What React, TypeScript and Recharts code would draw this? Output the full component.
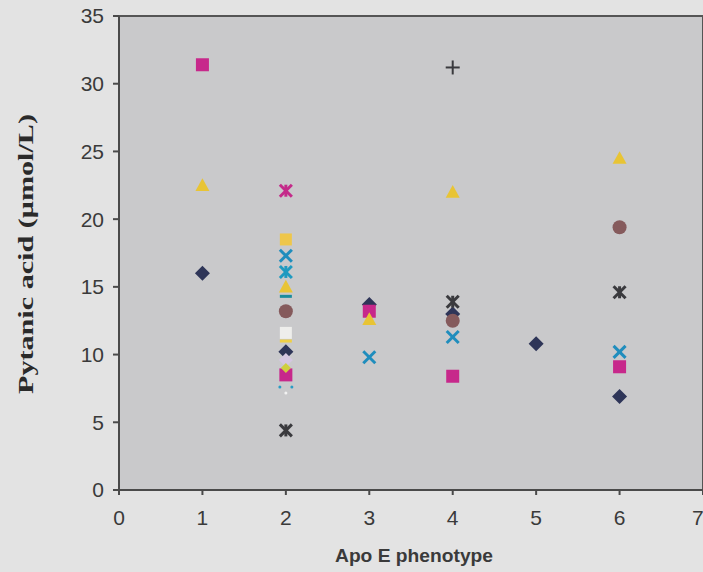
import { ScatterChart, Scatter, XAxis, YAxis, ReferenceArea } from 'recharts';

// Apo E phenotype groups (x) and pytanic acid values (y), one pair of arrays per marker series
const xTicks = [0, 1, 2, 3, 4, 5, 6, 7];
const yTicks = [0, 5, 10, 15, 20, 25, 30, 35];

const diamondX = [1, 2, 3, 4, 5, 6];
const diamondY = [16.0, 10.2, 13.7, 13.0, 10.8, 6.9];

const squareX = [1, 2, 3, 4, 6];
const squareY = [31.4, 8.5, 13.2, 8.4, 9.1];

const triangleX = [1, 2, 3, 4, 6];
const triangleY = [22.5, 15.0, 12.6, 22.0, 24.5];

const crossX = [2, 3, 4, 6];
const crossY = [17.3, 9.8, 11.3, 10.2];

const pinkStarX = [2];
const pinkStarY = [22.1];

const darkStarX = [2, 4, 6];
const darkStarY = [4.4, 13.9, 14.6];

const circleX = [2, 4, 6];
const circleY = [13.2, 12.5, 19.4];

const plusX = [4];
const plusY = [31.2];

const cyanStarX = [2];
const cyanStarY = [16.1];

const yellowSquareX = [2];
const yellowSquareY = [18.5];

const tealDashX = [2];
const tealDashY = [14.3];

const paleSquareX = [2];
const paleSquareY = [11.6];

const yellowDashX = [2];
const yellowDashY = [11.0];

const lavenderX = [2];
const lavenderY = [9.6];

const limeDiamondX = [2];
const limeDiamondY = [9.0];

const dotsX = [2];
const dotsY = [7.6];

const zip = (xs: number[], ys: number[]) => xs.map((x, i) => ({ x, y: ys[i] }));

type Kind = 'diamond' | 'square' | 'triangle' | 'cross' | 'star' | 'circle' | 'plus' | 'dash' | 'dots';

const series: { name: string; kind: Kind; color: string; size: number; data: { x: number; y: number }[] }[] = [
  { name: 'diamond', kind: 'diamond', color: '#2e3558', size: 7.5, data: zip(diamondX, diamondY) },
  { name: 'circle', kind: 'circle', color: '#855a5c', size: 7, data: zip(circleX, circleY) },
  { name: 'lavender', kind: 'diamond', color: '#d4c6e2', size: 7, data: zip(lavenderX, lavenderY) },
  { name: 'square', kind: 'square', color: '#c7288b', size: 6.5, data: zip(squareX, squareY) },
  { name: 'limeDiamond', kind: 'diamond', color: '#cfcf3e', size: 5, data: zip(limeDiamondX, limeDiamondY) },
  { name: 'triangle', kind: 'triangle', color: '#e8c435', size: 7, data: zip(triangleX, triangleY) },
  { name: 'cross', kind: 'cross', color: '#1f8dbd', size: 6, data: zip(crossX, crossY) },
  { name: 'pinkStar', kind: 'star', color: '#c42a8a', size: 6, data: zip(pinkStarX, pinkStarY) },
  { name: 'darkStar', kind: 'star', color: '#3a3a3e', size: 6, data: zip(darkStarX, darkStarY) },
  { name: 'plus', kind: 'plus', color: '#3a3a3e', size: 7, data: zip(plusX, plusY) },
  { name: 'cyanStar', kind: 'star', color: '#1f9ac0', size: 6, data: zip(cyanStarX, cyanStarY) },
  { name: 'yellowSquare', kind: 'square', color: '#eec64a', size: 6, data: zip(yellowSquareX, yellowSquareY) },
  { name: 'tealDash', kind: 'dash', color: '#1a8c9c', size: 6, data: zip(tealDashX, tealDashY) },
  { name: 'paleSquare', kind: 'square', color: '#eeeeec', size: 6, data: zip(paleSquareX, paleSquareY) },
  { name: 'yellowDash', kind: 'dash', color: '#efd046', size: 6, data: zip(yellowDashX, yellowDashY) },
  { name: 'dots', kind: 'dots', color: '#2a9cc4', size: 6, data: zip(dotsX, dotsY) },
];

function marker(kind: Kind, color: string, s: number) {
  return (props: any) => {
    const { cx, cy } = props;
    if (cx == null || cy == null) return <g />;
    switch (kind) {
      case 'diamond':
        return <polygon points={`${cx},${cy - s} ${cx + s},${cy} ${cx},${cy + s} ${cx - s},${cy}`} fill={color} />;
      case 'square':
        return <rect x={cx - s} y={cy - s} width={s * 2} height={s * 2} fill={color} />;
      case 'triangle':
        return <polygon points={`${cx},${cy - s} ${cx + s},${cy + s * 0.8} ${cx - s},${cy + s * 0.8}`} fill={color} />;
      case 'circle':
        return <circle cx={cx} cy={cy} r={s} fill={color} />;
      case 'cross':
        return (
          <g stroke={color} strokeWidth={3}>
            <line x1={cx - s} y1={cy - s} x2={cx + s} y2={cy + s} />
            <line x1={cx - s} y1={cy + s} x2={cx + s} y2={cy - s} />
          </g>
        );
      case 'star':
        return (
          <g stroke={color} strokeWidth={3}>
            <line x1={cx - s} y1={cy - s} x2={cx + s} y2={cy + s} />
            <line x1={cx - s} y1={cy + s} x2={cx + s} y2={cy - s} />
            <line x1={cx} y1={cy - s} x2={cx} y2={cy + s} />
          </g>
        );
      case 'plus':
        return (
          <g stroke={color} strokeWidth={2}>
            <line x1={cx - s} y1={cy} x2={cx + s} y2={cy} />
            <line x1={cx} y1={cy - s} x2={cx} y2={cy + s} />
          </g>
        );
      case 'dash':
        return <rect x={cx - s} y={cy - 1.5} width={s * 2} height={3} fill={color} />;
      case 'dots':
        return (
          <g fill={color}>
            <circle cx={cx - s} cy={cy} r={1.5} />
            <circle cx={cx + s} cy={cy} r={1.5} />
            <circle cx={cx} cy={cy + s} r={1.5} fill="#f2f2f2" />
          </g>
        );
    }
    return <g />;
  };
}

const tickStyle = { fontSize: 21, fill: '#3a3a3a', fontFamily: "'Liberation Sans', Arial, sans-serif" };

function YTitle() {
  return (
    <text
      x={25}
      y={254}
      transform="rotate(-90 25 254)"
      textAnchor="middle"
      dominantBaseline="central"
      fontFamily="'Liberation Serif', 'Times New Roman', serif"
      fontWeight="bold"
      fontSize={22}
      fill="#2a2a2a"
      textLength={280}
      lengthAdjust="spacingAndGlyphs"
    >
      Pytanic acid (μmol/L)
    </text>
  );
}

function XTitle() {
  return (
    <text
      x={414}
      y={556}
      textAnchor="middle"
      dominantBaseline="central"
      fontFamily="'Liberation Sans', Arial, sans-serif"
      fontWeight="bold"
      fontSize={18}
      fill="#3a3a3a"
      textLength={158}
      lengthAdjust="spacingAndGlyphs"
    >
      Apo E phenotype
    </text>
  );
}

export default function App() {
  return (
    <div style={{ position: 'absolute', top: 0, left: 0, width: 703, height: 572, background: '#e3e3e3' }}>
      <ScatterChart width={703} height={572} margin={{ top: 16, right: 0, bottom: 0, left: 0 }}>
        <XAxis
          type="number"
          dataKey="x"
          domain={[0, 7]}
          ticks={xTicks}
          allowDecimals={false}
          height={82}
          tick={tickStyle}
          tickSize={5}
          tickMargin={15}
          stroke="#4a4a4a"
          strokeWidth={2}
          label={<XTitle />}
        />
        <YAxis
          type="number"
          dataKey="y"
          domain={[0, 35]}
          ticks={yTicks}
          width={119}
          tick={tickStyle}
          tickSize={6}
          tickMargin={9}
          stroke="#4a4a4a"
          strokeWidth={2}
          label={<YTitle />}
        />
        <ReferenceArea x1={0} x2={7} y1={0} y2={35} fill="#c9c9cb" fillOpacity={1} stroke="#555" strokeWidth={2} />
        {series.map((s) => (
          <Scatter
            key={s.name}
            name={s.name}
            data={s.data}
            shape={marker(s.kind, s.color, s.size)}
            isAnimationActive={false}
          />
        ))}
      </ScatterChart>
    </div>
  );
}
